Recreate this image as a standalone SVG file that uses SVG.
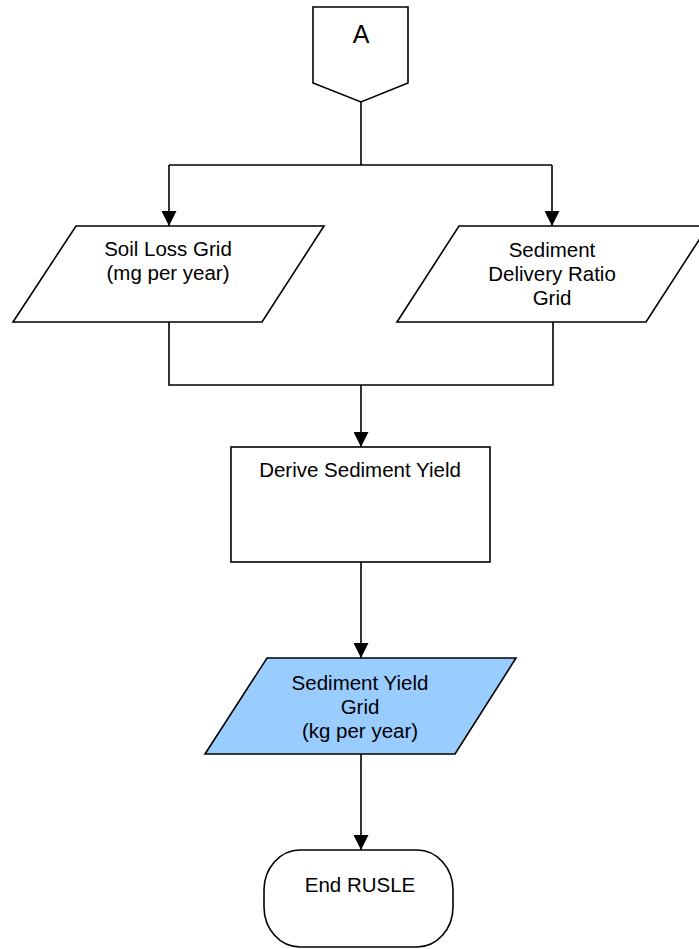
<svg xmlns="http://www.w3.org/2000/svg" width="699" height="949" viewBox="0 0 699 949">
<style>
.s{fill:#fff;stroke:#000;stroke-width:1.6}
.b{fill:#99ccff;stroke:#000;stroke-width:1.6}
.c{fill:none;stroke:#000;stroke-width:1.6}
text{font-family:"Liberation Sans",Arial,sans-serif;font-size:20.5px;fill:#000;text-anchor:middle}
</style>
<defs>
<marker id="ar" markerWidth="15" markerHeight="15" refX="15" refY="7.5" orient="auto" markerUnits="userSpaceOnUse" viewBox="0 0 15 15">
<path d="M0,0 L15,7.5 L0,15 Z" fill="#000"/>
</marker>
</defs>
<g id="connectors">
<path class="c" d="M361,102 V165"/>
<path class="c" d="M169,165 H552"/>
<path class="c" d="M169,165 V226" marker-end="url(#ar)"/>
<path class="c" d="M552,165 V226" marker-end="url(#ar)"/>
<path class="c" d="M169,322 V385 H553 V322"/>
<path class="c" d="M361,385 V447" marker-end="url(#ar)"/>
<path class="c" d="M361,562 V658" marker-end="url(#ar)"/>
<path class="c" d="M361,754 V850" marker-end="url(#ar)"/>
</g>
<g id="nodeA">
<path class="s" d="M313,7 H408 V83 L361,102 L313,83 Z"/>
<text x="361" y="43" style="font-size:25px">A</text>
</g>
<g id="soilLoss">
<path class="s" d="M76,226 H324 L262,322 H13 Z"/>
<text x="168" y="256">Soil Loss Grid</text>
<text x="168" y="280">(mg per year)</text>
</g>
<g id="sdr">
<path class="s" d="M459,226 H708 L646,322 H397 Z"/>
<text x="552" y="257">Sediment</text>
<text x="552" y="281">Delivery Ratio</text>
<text x="552" y="305">Grid</text>
</g>
<g id="derive">
<rect class="s" x="231" y="447" width="259" height="115"/>
<text x="360" y="477">Derive Sediment Yield</text>
</g>
<g id="yield">
<path class="b" d="M267,658 H516 L455,754 H205 Z"/>
<text x="360" y="690">Sediment Yield</text>
<text x="360" y="714">Grid</text>
<text x="360" y="738">(kg per year)</text>
</g>
<g id="end">
<rect class="s" x="264" y="850" width="189" height="97" rx="36" ry="40"/>
<text x="360" y="892">End RUSLE</text>
</g>
</svg>
